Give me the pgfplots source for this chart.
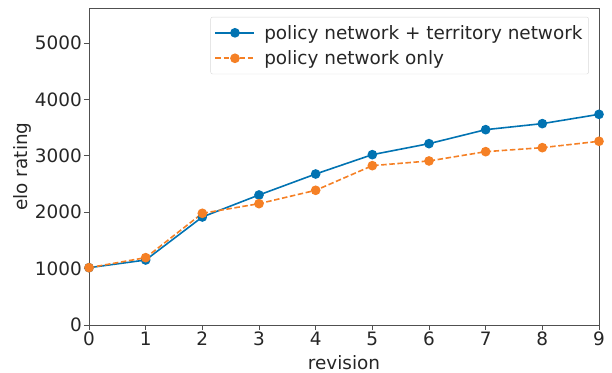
\documentclass[border=0pt]{standalone}
\usepackage{pgfplots}
\pgfplotsset{compat=1.18}
\usepackage{fontspec}
\setmainfont{DejaVu Sans}
\definecolor{cblue}{RGB}{1,115,178}
\definecolor{corange}{RGB}{245,128,37}
\definecolor{spine}{RGB}{80,80,80}
\definecolor{tlab}{RGB}{38,38,38}
\newcommand{\ff}{\fontsize{18.5}{22}\selectfont}
\begin{document}
\begin{tikzpicture}
\useasboundingbox (-89bp,-48bp) rectangle (523bp,325bp);
\begin{axis}[
  at={(0,0)}, anchor=south west,
  scale only axis, width=510bp, height=317bp,
  xmin=0, xmax=9, ymin=0, ymax=5620,
  xtick={0,...,9}, ytick={0,1000,2000,3000,4000,5000},
  scaled y ticks=false,
  xticklabel={\ff\pgfmathprintnumber[assume math mode=true]{\tick}},
  yticklabel={\ff\pgfmathprintnumber[assume math mode=true,set thousands separator={}]{\tick}},
  tick align=outside, tick pos=left,
  major tick length=5bp,
  every tick/.style={spine, line width=0.8bp},
  axis line style={spine, line width=0.8bp},
  tick label style={text=tlab},
  xticklabel style={inner sep=2bp},
  yticklabel style={inner sep=2bp},
  label style={font=\ff, text=tlab},
  xlabel={revision}, ylabel={elo rating},
  xlabel style={yshift=-4bp},
  ylabel style={yshift=-2bp},
  legend style={at={(0.98,0.972)}, anchor=north east, draw=black!15, rounded corners=2bp,
    font=\ff, text=tlab, inner xsep=4bp, inner ysep=6bp, row sep=6bp, column sep=7bp},
  legend cell align=left,
  legend image code/.code={
    \draw[#1] (0bp,0bp) -- (19.5bp,0bp) -- (39bp,0bp);
    \draw[#1, solid, mark repeat=1] plot coordinates {(19.5bp,0bp)};
  },
  clip=false,
]
\addplot[color=cblue, line width=1.6bp, mark=*, mark size=4bp, mark options={solid, fill=cblue, draw=cblue}]
  coordinates {(0,1016) (1,1152) (2,1915) (3,2305) (4,2677) (5,3020) (6,3215) (7,3463) (8,3570) (9,3735)};
\addlegendentry{policy network + territory network}
\addplot[color=corange, line width=1.6bp, dash pattern=on 5.5bp off 2.6bp, mark=*, mark size=4bp, mark options={solid, fill=corange, draw=corange}]
  coordinates {(0,1016) (1,1194) (2,1980) (3,2151) (4,2388) (5,2825) (6,2908) (7,3073) (8,3144) (9,3257)};
\addlegendentry{policy network only}
\end{axis}
\end{tikzpicture}
\end{document}
